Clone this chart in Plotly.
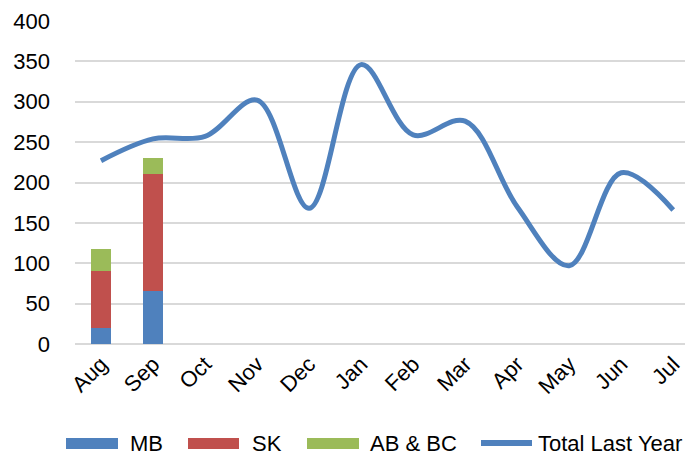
import plotly.graph_objects as go

months = ["Aug", "Sep", "Oct", "Nov", "Dec", "Jan", "Feb", "Mar", "Apr", "May", "Jun", "Jul"]
mb = [20, 66]
sk = [70, 144]
ab_bc = [28, 20]
total_last_year = [227, 254, 257, 302, 168, 346, 259, 276, 170, 97, 212, 166]

C_MB = "#4F81BD"
C_SK = "#C0504D"
C_AB = "#9BBB59"
FONT = "Liberation Sans, Arial, sans-serif"
FS = 22

OFF = 8  # default page body margin
W, H = 693 - OFF, 457 - OFF
L, R, T, B = 75 - OFF, 0, 21 - OFF, 113
PW, PH = W - L - R, H - T - B


def px(x):  # viewport pixel -> paper
    return (x - OFF - L) / PW


def py(y):
    return (H - B - (y - OFF)) / PH


fig = go.Figure()
for name, vals, col in [("MB", mb, C_MB), ("SK", sk, C_SK), ("AB & BC", ab_bc, C_AB)]:
    fig.add_trace(go.Bar(x=months[:len(vals)], y=vals, name=name, marker_color=col,
                         marker_line_width=0, width=0.4, showlegend=False))

fig.add_trace(go.Scatter(x=months, y=total_last_year, name="Total Last Year", mode="lines",
                         line=dict(color=C_MB, width=5, shape="spline", smoothing=1.0),
                         showlegend=False))

# custom legend
shapes = []
annotations = []
LY = 443
legend_items = [("MB", C_MB, 66, 118, 128), ("SK", C_SK, 188, 239, 250), ("AB & BC", C_AB, 307, 359, 368)]
for name, col, x0, x1, tx in legend_items:
    shapes.append(dict(type="rect", xref="paper", yref="paper", x0=px(x0), x1=px(x1),
                       y0=py(LY + 6), y1=py(LY - 5), fillcolor=col, line_width=0, layer="above"))
    annotations.append(dict(text=name, xref="paper", yref="paper", x=px(tx), y=py(LY),
                            xanchor="left", yanchor="middle", showarrow=False,
                            font=dict(family=FONT, size=FS, color="#000000")))
shapes.append(dict(type="line", xref="paper", yref="paper", x0=px(481), x1=px(532),
                   y0=py(LY), y1=py(LY), line=dict(color=C_MB, width=6), layer="above"))
annotations.append(dict(text="Total Last Year", xref="paper", yref="paper", x=px(536), y=py(LY),
                        xanchor="left", yanchor="middle", showarrow=False,
                        font=dict(family=FONT, size=FS, color="#000000")))

fig.update_layout(
    width=W, height=H,
    margin=dict(l=L, r=R, t=T, b=B, autoexpand=False),
    paper_bgcolor="white", plot_bgcolor="white",
    barmode="stack",
    font=dict(family=FONT, size=FS, color="#000000"),
    showlegend=False,
    shapes=shapes,
    annotations=annotations,
    xaxis=dict(range=[-0.5, 11.38], tickangle=-45, showgrid=False, showline=False,
               zeroline=False, ticks="", ticklabelstandoff=2, fixedrange=True, automargin=False),
    yaxis=dict(range=[0, 400], dtick=50, showgrid=True, gridcolor="#D9D9D9", gridwidth=2,
               zeroline=True, zerolinecolor="#D9D9D9", zerolinewidth=2, showline=False,
               ticks="", ticklabelstandoff=24, automargin=False),
)

fig.write_html("out.html")
